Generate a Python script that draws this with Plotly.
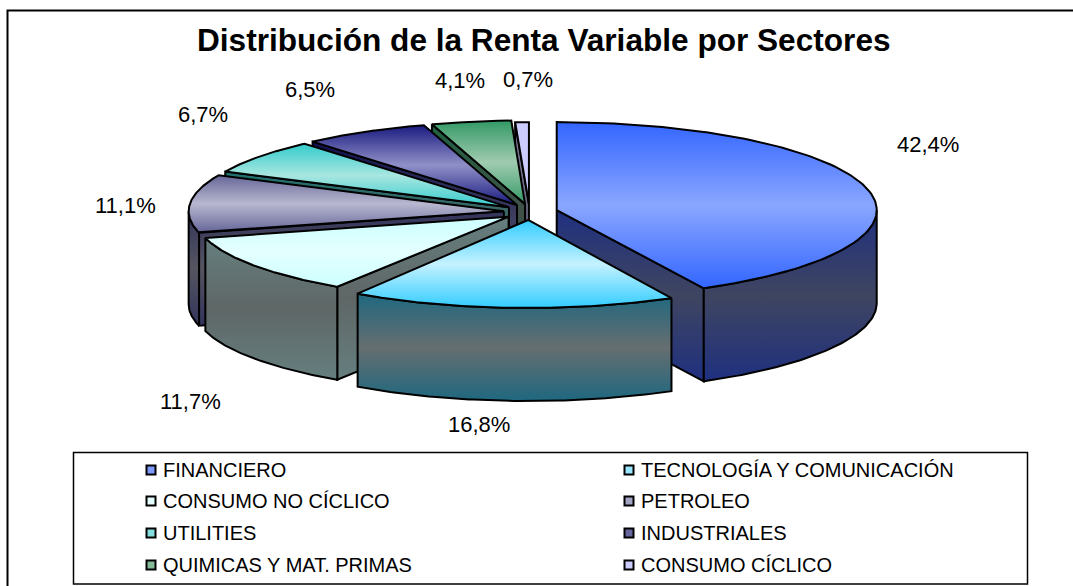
import numpy as np
import plotly.graph_objects as go

# ---- data ----
categories = ["FINANCIERO", "TECNOLOGÍA Y COMUNICACIÓN", "CONSUMO NO CÍCLICO", "PETROLEO",
              "UTILITIES", "INDUSTRIALES", "QUIMICAS Y MAT. PRIMAS", "CONSUMO CÍCLICO"]
values = [42.4, 16.8, 11.7, 11.1, 6.7, 6.5, 4.1, 0.7]
title_text = "Distribución de la Renta Variable por Sectores"

# ---- styles: (top edge, top centre) and (side edge, side centre) colours ----
top_edge = ["#3366ff", "#33ccff", "#ccffff", "#666699", "#33cccc", "#1a1a80", "#339966", "#ccccff"]
top_mid = ["#8aa6ff", "#c4f2ff", "#e4ffff", "#b8b8d0", "#a8e6e0", "#9090c8", "#a0cbb0", "#ccccff"]
side_edge = ["#1f3080", "#1f6880", "#667f7f", "#33335c", "#1f7070", "#101050", "#1f6040", "#7f7fa0"]
side_mid = ["#3f4560", "#666e70", "#5f6666", "#555560", "#506060", "#404060", "#405048", "#666680"]
swatch = ["#7f99ff", "#99e6ff", "#e4ffff", "#a3a3c2", "#85dede", "#66669c", "#85bb99", "#ccccff"]

# ---- geometry in page pixels (perspective: wedges further back draw a little smaller) ----
W, H = 1073, 586
CX, CY, A, B, DEPTH, PULL_X, PULL_Y = 529.5, 212.0, 320.0, 88.0, 93.0, 28.0, 8.0
persp_x = [1.0, 0.975, 0.98, 0.985, 0.98, 0.98, 0.98, 0.98]
persp_y = [1.0, 1.0, 0.95, 0.96, 0.95, 0.95, 0.95, 0.93]
pull_scale = [1.0, 1.0, 0.92, 0.92, 0.92, 0.92, 0.92, 0.92]
label_anchor = [(928, 144), (479, 424), (190, 401), (125, 205), (203, 114), (310, 89), (460, 80), (528, 79)]
legend_rows = [470, 501, 533, 565]
legend_cols = [(151, 161), (629, 639)]

def grad(edge, mid):
    return dict(type="vertical", colorscale=[[0, edge], [0.5, mid], [1, edge]])

fig = go.Figure()

def poly(xs, ys, edge, mid, name):
    xs, ys = list(xs) + [xs[0]], list(ys) + [ys[0]]
    fig.add_trace(go.Scatter(x=xs, y=ys, mode="lines", fill="toself",
                             fillgradient=grad(edge, mid),
                             line=dict(color="black", width=2), name=name,
                             showlegend=False, hoverinfo="name"))

edges = np.concatenate([[0], np.cumsum(values)]) / sum(values) * 360
for i in [7, 6, 5, 4, 3, 2, 0, 1]:
    a0, a1 = edges[i], edges[i + 1]
    mid_ang = np.radians((a0 + a1) / 2)
    ox = CX + PULL_X * pull_scale[i] * np.sin(mid_ang)
    oy = CY - PULL_Y * np.cos(mid_ang)

    def pt(ang):
        t = np.radians(ang)
        return ox + A * persp_x[i] * np.sin(t), oy - B * persp_y[i] * np.cos(t)

    for ang, vis in ((a0, np.sin(np.radians(a0)) < -1e-6), (a1, np.sin(np.radians(a1)) > 1e-6)):
        if vis:
            ex, ey = pt(ang)
            poly([ox, ex, ex, ox], [oy, ey, ey + DEPTH, oy + DEPTH], side_edge[i], side_mid[i], categories[i])
    s0, s1 = max(a0, 90), min(a1, 270)
    if s1 > s0:
        ax, ay = pt(np.linspace(s0, s1, 80))
        poly(np.r_[ax, ax[::-1]], np.r_[ay, (ay + DEPTH)[::-1]], side_edge[i], side_mid[i], categories[i])
    ax, ay = pt(np.linspace(a0, a1, 120))
    poly(np.r_[ox, ax], np.r_[oy, ay], top_edge[i], top_mid[i], categories[i])

# percentage labels
for v, (lx, ly) in zip(values, label_anchor):
    fig.add_annotation(x=lx, y=ly, text=f"{v:.1f}%".replace(".", ","), showarrow=False,
                       font=dict(family="Liberation Sans", size=22, color="black"))

# legend
for i, c in enumerate(categories):
    col, row = legend_cols[i % 2], legend_rows[i // 2]
    fig.add_trace(go.Scatter(x=[col[0]], y=[row], mode="markers",
                             marker=dict(symbol="square", size=9, color=swatch[i], line=dict(color="black", width=2)),
                             showlegend=False, hoverinfo="skip"))
    fig.add_annotation(x=col[1], y=row, text=c, showarrow=False, xanchor="left",
                       font=dict(family="Liberation Sans", size=20, color="black"))

fig.add_shape(type="rect", x0=73.5, x1=1027.5, y0=452.5, y1=584, line=dict(color="black", width=1.5))
fig.add_shape(type="rect", x0=7.5, x1=1090, y0=10.5, y1=610, line=dict(color="black", width=2))
fig.add_annotation(x=543.5, y=40, text=f"<b>{title_text}</b>", showarrow=False,
                   font=dict(family="Liberation Sans", size=31.6, color="black"))

fig.update_layout(width=W, height=H, margin=dict(l=0, r=0, t=0, b=0), autosize=False,
                  paper_bgcolor="white", plot_bgcolor="white", showlegend=False,
                  xaxis=dict(range=[0, W], visible=False, fixedrange=True),
                  yaxis=dict(range=[H, 0], visible=False, fixedrange=True))
fig.write_html("out.html", config=dict(displayModeBar=False),
               post_script="document.body.style.margin='0';document.body.style.overflow='hidden';")
